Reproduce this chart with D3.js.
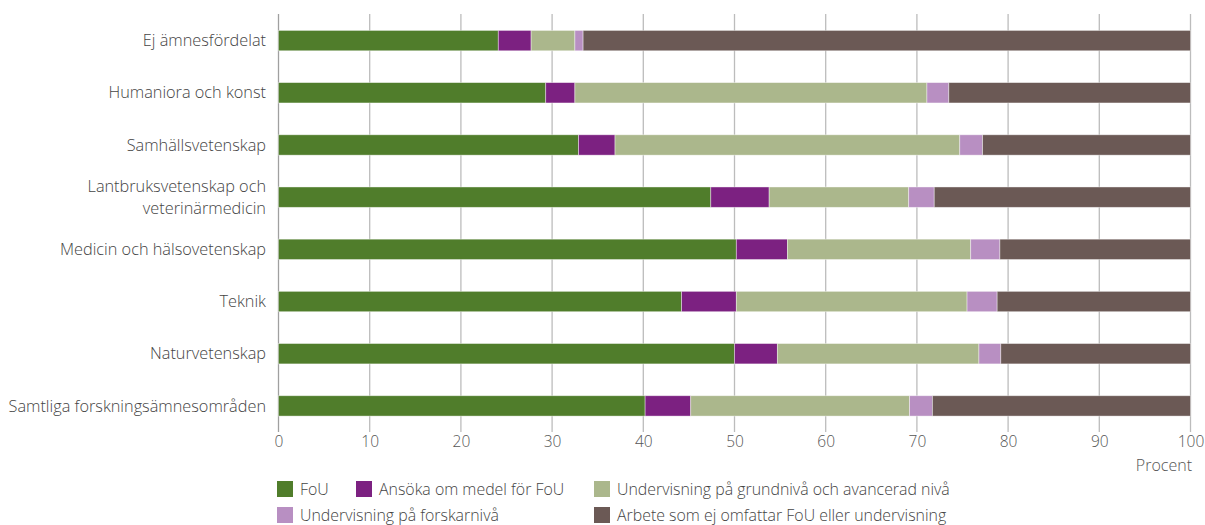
<!DOCTYPE html>
<html><head><meta charset="utf-8">
<script src="https://cdn.jsdelivr.net/npm/d3@7"></script>
<style>body{margin:0;background:#fff}svg{display:block}text{font-family:"Open Sans",Lato,sans-serif;font-weight:300}</style>
</head><body>
<svg id="c" width="1205" height="525"></svg>
<script>
const categories = ["Ej ämnesfördelat","Humaniora och konst","Samhällsvetenskap","Lantbruksvetenskap och veterinärmedicin","Medicin och hälsovetenskap","Teknik","Naturvetenskap","Samtliga forskningsämnesområden"];
const seriesNames = ["FoU","Ansöka om medel för FoU","Undervisning på grundnivå och avancerad nivå","Undervisning på forskarnivå","Arbete som ej omfattar FoU eller undervisning"];
const colors = ["#507d2b","#7c2181","#abb78c","#b88fc2","#6b5955"];
const fou      = [24.1, 29.3, 32.9, 47.4, 50.2, 44.2, 50.0, 40.2];
const ansoka   = [3.6, 3.2, 4.0, 6.4, 5.6, 6.0, 4.7, 5.0];
const grund    = [4.8, 38.6, 37.8, 15.3, 20.1, 25.3, 22.1, 24.0];
const forskar  = [0.9, 2.4, 2.5, 2.8, 3.2, 3.3, 2.4, 2.5];
const arbete   = [66.6, 26.5, 22.8, 28.1, 20.9, 21.2, 20.8, 28.3];
const xTicks = [0,10,20,30,40,50,60,70,80,90,100];
const labelLines = {"Lantbruksvetenskap och veterinärmedicin":["Lantbruksvetenskap och","veterinärmedicin"]};

const rows = categories.map((c,i)=>({cat:c, vals:[fou[i],ansoka[i],grund[i],forskar[i],arbete[i]]}));
const svg = d3.select("#c");
const x = d3.scaleLinear().domain([0,100]).range([278.5,1190.5]);
const y = d3.scaleBand().domain(categories).range([14.5,432]).paddingInner(0.61).paddingOuter(0.305);

svg.append("g").selectAll("line").data(xTicks).join("line")
  .attr("x1",d=>x(d)).attr("x2",d=>x(d)).attr("y1",14).attr("y2",432)
  .attr("stroke",d=>d===0?"#a0a0a0":"#bcbcbc").attr("stroke-width",1.3);

const stackData = rows.map(r=>{let acc=0;return r.vals.map((v,k)=>{const s={cat:r.cat,k,x0:acc,x1:acc+v};acc+=v;return s;});}).flat();
svg.append("g").selectAll("rect").data(stackData).join("rect")
  .attr("x",d=>x(d.x0)).attr("width",d=>x(d.x1)-x(d.x0))
  .attr("y",d=>y(d.cat)).attr("height",y.bandwidth())
  .attr("fill",d=>colors[d.k]).attr("stroke","#ffffff").attr("stroke-opacity",0.5).attr("stroke-width",0.8);

const ax = svg.append("g").attr("transform","translate(0,432)")
  .call(d3.axisBottom(x).tickValues(xTicks).tickSize(0).tickPadding(4));
ax.select(".domain").remove();
ax.selectAll("text").attr("font-size",15.5).attr("fill","#555").attr("font-family","'Open Sans', sans-serif").attr("font-weight",300);

svg.append("text").attr("x",1192).attr("y",471).attr("text-anchor","end").attr("font-size",16).attr("fill","#555").text("Procent");

const lg = svg.append("g");
categories.forEach(c=>{
  const lines = labelLines[c]||[c];
  const cy = y(c)+y.bandwidth()/2;
  const t = lg.append("text").attr("x",266).attr("text-anchor","end").attr("font-size",16.3).attr("fill","#444");
  lines.forEach((ln,j)=>{
    t.append("tspan").attr("x",266).attr("y",cy + (j-(lines.length-1)/2)*22).attr("dy","0.35em").text(ln);
  });
});

const legendPos = [[277,489],[356,489],[594,489],[277,515],[594,515]];
const leg = svg.append("g");
seriesNames.forEach((n,k)=>{
  const [lx,ly] = legendPos[k];
  leg.append("rect").attr("x",lx).attr("y",ly-8).attr("width",16).attr("height",16).attr("fill",colors[k]);
  leg.append("text").attr("x",lx+23).attr("y",ly).attr("dy","0.35em").attr("font-size",15.9).attr("fill","#444").text(n);
});
</script>
</body></html>
